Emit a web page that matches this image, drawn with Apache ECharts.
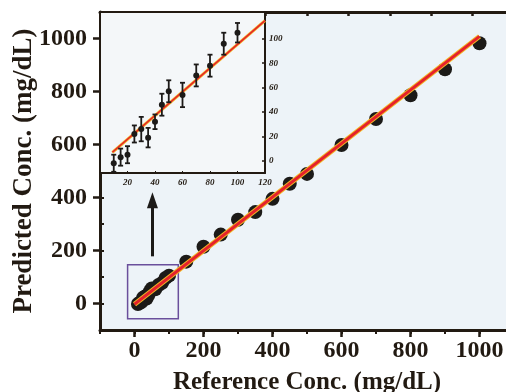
<!DOCTYPE html>
<html>
<head>
<meta charset="utf-8">
<style>
  html, body { margin: 0; padding: 0; background: #ffffff; }
  #chart { width: 506px; height: 392px; }
</style>
<script src="https://cdn.jsdelivr.net/npm/echarts@6/dist/echarts.min.js"></script>
</head>
<body>
<div id="chart"></div>
<script>
// 低浓度样本（插图里带误差棒的点，也画在主图 0~100 处）
var refLow  = [10, 15, 20, 25, 30, 35, 40, 45, 50, 60, 70, 80, 90, 100];
var predLow = [-2, 3, 5, 22, 26, 19, 32, 46, 57, 54, 70, 78, 96, 105];
var errLow  = [7, 7, 7, 7, 10, 8, 6, 9, 9, 10, 9, 9, 9, 8];

// 高浓度样本
var refHigh  = [150, 200, 250, 300, 350, 400, 450, 500, 600, 700, 800, 900, 1000];
var predHigh = [158, 214, 260, 316, 345, 395, 452, 489, 598, 696, 786, 884, 982];

// 拟合线端点
var fitX = [0, 1000];
var fitY = [-3, 1008];
var insetFitX = [9, 120];
var insetFitY = [7, 115];

// 刻度标签
var mainTicks = [0, 200, 400, 600, 800, 1000];
var insetXTicks = [20, 40, 60, 80, 100, 120];
var insetYTicks = [0, 20, 40, 60, 80, 100];

var ink = '#221a12';
var serif = 'Liberation Serif';

function pairs(xs, ys) {
    return xs.map(function (x, i) { return [x, ys[i]]; });
}
function plain(v) { return String(v); }

var myChart = echarts.init(document.getElementById('chart'));

var option = {
    backgroundColor: '#ffffff',
    animation: false,
    grid: [
        {   // 主图
            left: 100, top: 12, right: -8, bottom: 62, outerBoundsMode: 'none',
            show: true, backgroundColor: '#edf3f8', borderWidth: 0, z: 0
        },
        {   // 插图
            left: 100, top: 12, width: 165, height: 161, outerBoundsMode: 'none',
            show: true, backgroundColor: '#f4f7f9', borderWidth: 0, z: 10
        }
    ],
    xAxis: [
        {
            gridIndex: 0, type: 'value', position: 'bottom', min: -100, max: 1100,
            name: 'Reference Conc. (mg/dL)', nameLocation: 'middle', nameGap: 40, nameMoveOverlap: false,
            nameTextStyle: { fontFamily: serif, fontWeight: 'bold', fontSize: 25, color: ink },
            axisLine: { onZero: false, lineStyle: { color: ink, width: 3 } },
            axisTick: { customValues: mainTicks, length: 7, lineStyle: { color: ink, width: 2.5 } },
            axisLabel: { customValues: mainTicks, formatter: plain, margin: 9, fontFamily: serif, fontWeight: 'bold', fontSize: 24, color: ink },
            splitLine: { show: false }
        },
        {   // 次刻度
            gridIndex: 0, type: 'value', position: 'bottom', min: -100, max: 1100, interval: 100,
            axisLine: { show: false, onZero: false },
            axisTick: { length: 4, lineStyle: { color: ink, width: 2 } },
            axisLabel: { show: false },
            splitLine: { show: false }
        },
        {   // 上边框
            gridIndex: 0, type: 'value', position: 'top', min: -100, max: 1100, interval: 120,
            axisLine: { onZero: false, lineStyle: { color: ink, width: 3 } },
            axisTick: { inside: true, length: 4, lineStyle: { color: ink, width: 2.5 } },
            axisLabel: { show: false },
            splitLine: { show: false }
        },
        {   // 插图 x
            gridIndex: 1, type: 'value', position: 'bottom', min: 0, max: 120, interval: 20, z: 11,
            axisLine: { onZero: false, lineStyle: { color: ink, width: 2 } },
            axisTick: { inside: true, length: 2, lineStyle: { color: ink, width: 1 } },
            axisLabel: { customValues: insetXTicks, margin: 5, fontFamily: serif, fontWeight: 'bold', fontStyle: 'italic', fontSize: 9, color: ink },
            splitLine: { show: false }
        },
        {
            gridIndex: 1, type: 'value', position: 'top', min: 0, max: 120, z: 11,
            axisLine: { onZero: false, lineStyle: { color: ink, width: 2 } },
            axisTick: { show: false }, axisLabel: { show: false }, splitLine: { show: false }
        }
    ],
    yAxis: [
        {
            gridIndex: 0, type: 'value', position: 'left', min: -100, max: 1100,
            name: 'Predicted Conc. (mg/dL)', nameLocation: 'middle', nameGap: 62, nameMoveOverlap: false,
            nameTextStyle: { fontFamily: serif, fontWeight: 'bold', fontSize: 27, color: ink },
            axisLine: { onZero: false, lineStyle: { color: ink, width: 3 } },
            axisTick: { customValues: mainTicks, length: 7, lineStyle: { color: ink, width: 2.5 } },
            axisLabel: { customValues: mainTicks, formatter: plain, margin: 13, fontFamily: serif, fontWeight: 'bold', fontSize: 24, color: ink },
            splitLine: { show: false }
        },
        {
            gridIndex: 0, type: 'value', position: 'left', min: -100, max: 1100, interval: 100,
            axisLine: { show: false, onZero: false },
            axisTick: { inside: true, length: 4, lineStyle: { color: ink, width: 2 } },
            axisLabel: { show: false },
            splitLine: { show: false }
        },
        {
            gridIndex: 0, type: 'value', position: 'right', min: -100, max: 1100,
            axisLine: { show: true, onZero: false, lineStyle: { color: ink, width: 3 } },
            axisTick: { show: false }, axisLabel: { show: false }, splitLine: { show: false }
        },
        {   // 插图 y（右侧）
            gridIndex: 1, type: 'value', position: 'right', min: -10, max: 122, z: 11,
            axisLine: { show: true, onZero: false, lineStyle: { color: ink, width: 2 } },
            axisTick: { customValues: insetYTicks, inside: true, length: 3, lineStyle: { color: ink, width: 1.5 } },
            axisLabel: { customValues: insetYTicks, margin: 4, fontFamily: serif, fontWeight: 'bold', fontStyle: 'italic', fontSize: 9, color: ink },
            splitLine: { show: false }
        },
        {
            gridIndex: 1, type: 'value', position: 'left', min: -10, max: 122, z: 11,
            axisLine: { show: true, onZero: false, lineStyle: { color: ink, width: 2 } },
            axisTick: { show: false }, axisLabel: { show: false }, splitLine: { show: false }
        }
    ],
    series: [
        {
            name: 'low', type: 'scatter', xAxisIndex: 0, yAxisIndex: 0,
            symbol: 'circle', symbolSize: 14,
            itemStyle: { color: '#1c1a18', opacity: 1 },
            data: pairs(refLow, predLow),
            markArea: {
                silent: true,
                itemStyle: { color: 'rgba(0,0,0,0)', borderColor: '#6a4f9c', borderWidth: 1.5 },
                data: [[{ coord: [-20, -58] }, { coord: [127, 146] }]]
            },
            markLine: {
                silent: true, symbol: ['none', 'triangle'], symbolSize: [11, 16],
                label: { show: false },
                lineStyle: { color: '#1c1a18', width: 3, type: 'solid' },
                data: [[{ coord: [52, 178] }, { coord: [52, 390] }]]
            }
        },
        {
            name: 'high', type: 'scatter', xAxisIndex: 0, yAxisIndex: 0,
            symbol: 'circle', symbolSize: 14,
            itemStyle: { color: '#1c1a18', opacity: 1 },
            data: pairs(refHigh, predHigh)
        },
        {
            name: 'fitGlow', type: 'line', xAxisIndex: 0, yAxisIndex: 0,
            symbol: 'none', lineStyle: { color: '#f2b825', width: 5 },
            data: pairs(fitX, fitY)
        },
        {
            name: 'fit', type: 'line', xAxisIndex: 0, yAxisIndex: 0,
            symbol: 'none', lineStyle: { color: '#e5222b', width: 3 },
            data: pairs(fitX, fitY)
        },
        {
            name: 'insetFitGlow', type: 'line', xAxisIndex: 3, yAxisIndex: 3, z: 12,
            symbol: 'none', lineStyle: { color: '#f2b825', width: 3 },
            data: pairs(insetFitX, insetFitY)
        },
        {
            name: 'insetFit', type: 'line', xAxisIndex: 3, yAxisIndex: 3, z: 13,
            symbol: 'none', lineStyle: { color: '#e5222b', width: 1.6 },
            data: pairs(insetFitX, insetFitY)
        },
        {
            name: 'errorBars', type: 'custom', xAxisIndex: 3, yAxisIndex: 3, z: 14,
            data: refLow.map(function (x, i) { return [x, predLow[i], errLow[i]]; }),
            renderItem: function (params, api) {
                var x = api.value(0), y = api.value(1), e = api.value(2);
                var top = api.coord([x, y + e]);
                var bot = api.coord([x, y - e]);
                var w = 2.5;
                var st = { stroke: '#1c1a18', lineWidth: 1.8 };
                return {
                    type: 'group',
                    children: [
                        { type: 'line', shape: { x1: top[0], y1: top[1], x2: bot[0], y2: bot[1] }, style: st },
                        { type: 'line', shape: { x1: top[0] - w, y1: top[1], x2: top[0] + w, y2: top[1] }, style: st },
                        { type: 'line', shape: { x1: bot[0] - w, y1: bot[1], x2: bot[0] + w, y2: bot[1] }, style: st }
                    ]
                };
            }
        },
        {
            name: 'insetPoints', type: 'scatter', xAxisIndex: 3, yAxisIndex: 3, z: 15,
            symbol: 'circle', symbolSize: 6,
            itemStyle: { color: '#1c1a18', opacity: 1 },
            data: pairs(refLow, predLow)
        }
    ]
};

myChart.setOption(option);
</script>
</body>
</html>
